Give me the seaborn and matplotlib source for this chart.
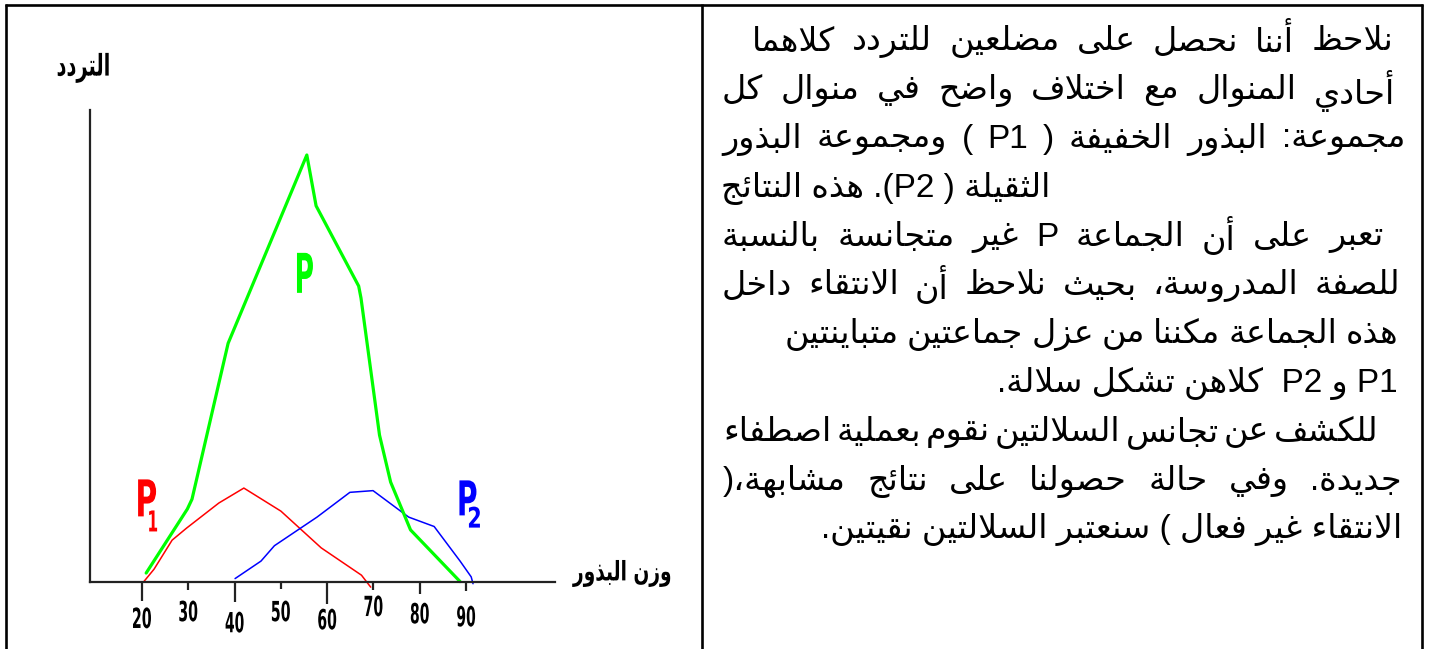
import matplotlib
matplotlib.use("Agg")
import numpy as np
import matplotlib.pyplot as plt
import matplotlib.transforms as mtransforms
from matplotlib.textpath import TextPath
from matplotlib.patches import PathPatch
from matplotlib.font_manager import FontProperties
import seaborn as sns

# values: seed weight (x) against frequency (y)
p_weight = [20.9, 29.8, 30.8, 38.6, 41.8, 55.6, 57.6, 66.8, 67.3, 71.3, 73.7, 78.0, 88.7]
p_freq = [2.1, 17.1, 19.4, 55.9, 64.2, 100, 88.1, 69.3, 66.5, 34.4, 23.4, 12.2, 0.1]
p1_weight = [20.4, 22.6, 26.5, 29.6, 36.6, 42.0, 50.0, 58.7, 67.4, 69.4]
p1_freq = [0.1, 3.0, 9.8, 12.6, 18.5, 22.0, 16.6, 8.0, 1.6, -1.2]
p2_weight = [40.1, 45.7, 48.6, 57.8, 64.9, 69.9, 77.6, 83.1, 88.7, 91.1, 91.5]
p2_freq = [0.8, 4.9, 8.5, 15.2, 21.0, 21.4, 15.2, 13.0, 4.9, 1.2, -0.4]
tick_values = [20, 30, 40, 50, 60, 70, 80, 90]

y_label = "التردد"
x_label = "وزن البذور"

text_lines = [
    "نلاحظ أننا نحصل على مضلعين للتردد كلاهما",
    "أحادي المنوال مع اختلاف واضح في منوال كل",
    "مجموعة: البذور الخفيفة ( P1 ) ومجموعة البذور",
    "الثقيلة ( P2). هذه النتائج",
    "تعبر على أن الجماعة  P غير متجانسة بالنسبة",
    "للصفة المدروسة، بحيث نلاحظ أن الانتقاء داخل",
    "هذه الجماعة مكننا من عزل جماعتين متباينتين",
    "P1 و P2  كلاهن تشكل سلالة.",
    "للكشف عن تجانس السلالتين نقوم بعملية اصطفاء",
    "جديدة. وفي حالة حصولنا على نتائج مشابهة،(",
    "الانتقاء غير فعال ) سنعتبر السلالتين نقيتين.",
]

# ---- minimal arabic shaping + bidi (matplotlib does neither) ----
FORMS = {}
for ch, start, n in [('ء', 0xFE80, 1), ('آ', 0xFE81, 2), ('أ', 0xFE83, 2), ('ؤ', 0xFE85, 2),
                     ('إ', 0xFE87, 2), ('ئ', 0xFE89, 4), ('ا', 0xFE8D, 2), ('ب', 0xFE8F, 4),
                     ('ة', 0xFE93, 2), ('ت', 0xFE95, 4), ('ث', 0xFE99, 4), ('ج', 0xFE9D, 4),
                     ('ح', 0xFEA1, 4), ('خ', 0xFEA5, 4), ('د', 0xFEA9, 2), ('ذ', 0xFEAB, 2),
                     ('ر', 0xFEAD, 2), ('ز', 0xFEAF, 2), ('س', 0xFEB1, 4), ('ش', 0xFEB5, 4),
                     ('ص', 0xFEB9, 4), ('ض', 0xFEBD, 4), ('ط', 0xFEC1, 4), ('ظ', 0xFEC5, 4),
                     ('ع', 0xFEC9, 4), ('غ', 0xFECD, 4), ('ف', 0xFED1, 4), ('ق', 0xFED5, 4),
                     ('ك', 0xFED9, 4), ('ل', 0xFEDD, 4), ('م', 0xFEE1, 4), ('ن', 0xFEE5, 4),
                     ('ه', 0xFEE9, 4), ('و', 0xFEED, 2), ('ى', 0xFEEF, 2), ('ي', 0xFEF1, 4)]:
    FORMS[ch] = (start, n)
LAMALEF = {'آ': 0xFEF5, 'أ': 0xFEF7, 'إ': 0xFEF9, 'ا': 0xFEFB}
MIRROR = {'(': ')', ')': '('}


def shape(s):
    units = []
    i = 0
    while i < len(s):
        if s[i] == 'ل' and i + 1 < len(s) and s[i + 1] in LAMALEF:
            units.append(('LA', s[i + 1]))
            i += 2
        else:
            units.append(s[i])
            i += 1

    def joins_next(u):
        return not isinstance(u, tuple) and u in FORMS and FORMS[u][1] == 4

    def joins_prev(u):
        return isinstance(u, tuple) or (u in FORMS and FORMS[u][1] > 1)

    out = []
    for k, u in enumerate(units):
        prev = units[k - 1] if k > 0 else None
        nxt = units[k + 1] if k + 1 < len(units) else None
        lp = prev is not None and joins_next(prev) and joins_prev(u)
        ln = nxt is not None and joins_next(u) and joins_prev(nxt)
        if isinstance(u, tuple):
            out.append(chr(LAMALEF[u[1]] + (1 if lp else 0)))
        elif u in FORMS:
            start, n = FORMS[u]
            if n == 4:
                idx = {(False, False): 0, (True, False): 1, (False, True): 2, (True, True): 3}[(lp, ln)]
            elif n == 2:
                idx = 1 if lp else 0
            else:
                idx = 0
            out.append(chr(start + idx))
        else:
            out.append(u)
    return ''.join(out)


def bidi(text, rtl=True):
    s = shape(text)

    def kind(c):
        if '\u0600' <= c <= '\u06ff' or '\ufe70' <= c <= '\ufeff':
            return 'R'
        if c.isascii() and c.isalnum():
            return 'L'
        return 'N'
    kinds = [kind(c) for c in s]
    base = 'R' if rtl else 'L'
    res = []
    for i, k in enumerate(kinds):
        if k != 'N':
            res.append(k)
            continue
        prev = next((kinds[j] for j in range(i - 1, -1, -1) if kinds[j] != 'N'), base)
        nxt = next((kinds[j] for j in range(i + 1, len(s)) if kinds[j] != 'N'), base)
        res.append(prev if prev == nxt else base)
    if rtl:
        levels = [2 if r == 'L' else 1 for r in res]
    else:
        levels = [1 if r == 'R' else 0 for r in res]
    chars = [MIRROR.get(c, c) if r == 'R' else c for c, r in zip(s, res)]
    for lev in range(max(levels), 0, -1):
        i = 0
        while i < len(chars):
            if levels[i] >= lev:
                j = i
                while j < len(chars) and levels[j] >= lev:
                    j += 1
                chars[i:j] = chars[i:j][::-1]
                levels[i:j] = levels[i:j][::-1]
                i = j
            else:
                i += 1
    return ''.join(chars)


BOLD = FontProperties(family='DejaVu Sans', weight='bold')


def narrow_text(ax, x, y, s, color, w, h):
    # tall condensed lettering like the hand-made chart
    tp = TextPath((0, 0), s, size=10, prop=BOLD)
    ext = tp.get_extents()
    tr = (mtransforms.Affine2D()
          .translate(-(ext.x0 + ext.x1) / 2, -(ext.y0 + ext.y1) / 2)
          .scale(w / ext.width, h / ext.height)
          + mtransforms.ScaledTranslation(x, y, ax.transData))
    ax.add_artist(PathPatch(tp, transform=tr, facecolor=color, edgecolor='none', clip_on=False))


sns.set_style("white")
plt.rcParams['font.family'] = ['DejaVu Sans']

fig = plt.figure(figsize=(14.29, 6.49), dpi=100)
renderer = fig.canvas.get_renderer()

# page frame (pixel coords) for the table borders and the text cell
frame = fig.add_axes([0, 0, 1, 1])
frame.set_xlim(0, 1429)
frame.set_ylim(649, 0)
frame.axis('off')
border = dict(color='black', lw=1.9, solid_capstyle='butt')
frame.plot([5, 1423.5], [5, 5], **border)
frame.plot([6, 6], [4, 649], **border)
frame.plot([702, 702], [4, 649], **border)
frame.plot([1422.5, 1422.5], [4, 649], **border)

# justified lines get [left, right]; the others are set flush on one side
line_left = [752, 722, 722, 721, 722, 722, 785, None, 723, 723, None]
line_right = [1393, 1395, 1405, None, 1384, 1400, 1398, 1398, 1379, 1402, 1402]
font = dict(fontsize=24, family=['Liberation Sans', 'DejaVu Sans'], color='black', va='center')
for i, line in enumerate(text_lines):
    y = 42 + 48.8 * i
    vis = bidi(line)
    left, right = line_left[i], line_right[i]
    if left is not None and right is not None:
        words = [w for w in vis.split(' ') if w]
        texts = [frame.text(0, y, w, ha='left', **font) for w in words]
        widths = [t.get_window_extent(renderer).width for t in texts]
        gap = (right - left - sum(widths)) / (len(words) - 1)
        x = left
        for t, wd in zip(texts, widths):
            t.set_x(x)
            x += wd + gap
    elif left is not None:
        frame.text(left, y, vis, ha='left', **font)
    else:
        frame.text(right, y, vis, ha='right', **font)

# chart cell
ax = fig.add_axes([60 / 1429, 9 / 649, 600 / 1429, 540 / 649])
ax.patch.set_alpha(0)

sns.lineplot(x=p1_weight, y=p1_freq, ax=ax, color='#ff0000', lw=1.1, sort=False, estimator=None)
sns.lineplot(x=p2_weight, y=p2_freq, ax=ax, color='#0000ff', lw=1.1, sort=False, estimator=None)
sns.lineplot(x=p_weight, y=p_freq, ax=ax, color='#00ff00', lw=2.3, sort=False, estimator=None)

ax.set_xlim(2.29, 131.88)
ax.set_ylim(-13.58, 112.88)
ax.spines['top'].set_visible(False)
ax.spines['right'].set_visible(False)
ax.spines['left'].set_position(('data', 8.8))
ax.spines['left'].set_bounds(0, 110.5)
ax.spines['bottom'].set_position(('data', 0))
ax.spines['bottom'].set_bounds(8.8, 109.2)
for s in ['left', 'bottom']:
    ax.spines[s].set_color('#222222')
    ax.spines[s].set_linewidth(1.6)
ax.set_xticks([])
ax.set_yticks([])

# hand drawn ticks of uneven length and staggered labels
tick_len = [19, 8, 20, 7, 22, 8, 12, 9]
label_y = [-8.4, -6.8, -9.4, -6.8, -8.7, -5.6, -7.3, -8.0]
ax.vlines(tick_values, -np.array(tick_len) / 4.27, 0, color='#222222', lw=1.6)
for v, ly in zip(tick_values, label_y):
    narrow_text(ax, v, ly, str(v), 'black', 18, 21)

narrow_text(ax, 7.3, 120.4, bidi(y_label), 'black', 51, 30)
narrow_text(ax, 123.5, 2.0, bidi(x_label), 'black', 98, 27)

narrow_text(ax, 55.2, 72.4, 'P', '#00ff00', 16, 40)
narrow_text(ax, 21.1, 19.7, 'P', '#ff0000', 18, 37)
narrow_text(ax, 22.4, 14.3, '1', '#ff0000', 8, 21)
narrow_text(ax, 90.4, 19.7, 'P', '#0000ff', 17, 35)
narrow_text(ax, 91.8, 15.2, '2', '#0000ff', 11, 21)

fig.savefig('out.png', dpi=100)
